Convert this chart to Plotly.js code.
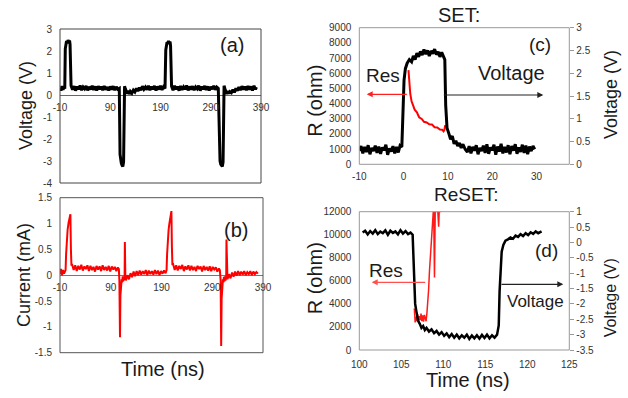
<!DOCTYPE html>
<html><head><meta charset="utf-8">
<script src="https://cdn.plot.ly/plotly-3.0.1.min.js"></script>
<style>html,body{margin:0;padding:0;background:#fff;}#chart{width:628px;height:398px;}</style>
</head><body><div id="chart"></div>
<script>
// ---------- Panel (a): voltage vs time ----------
const timeA = [-10,-8,-6,-4,-2,-0.5, 0.5,1.5,3,4.5,6,7.5,9,10,11,
 12,15,18,21,24,27,30,33,36,39,42,45,48,51,54,57,60,63,66,69,72,75,78,81,84,87,90,93,96,99,102,105,108,
 109.5,110.5,112,113.5,115,116.5,117.3,
 118.5,120,122,124,126,128,130,133,136,139,142,145,148,151,154,157,160,
 163,166,169,172,175,178,181,184,187,190,193,196,199,
 200.5,201.5,203,204.5,206,207.5,209,210,211,
 212,215,218,221,224,227,230,233,236,239,242,245,248,251,254,257,260,263,266,269,272,275,278,281,284,287,290,293,296,299,302,305,
 307.5,308.5,310,311.5,313,314.5,315.3,
 316.5,318,320,322,324,326,328,331,334,337,340,343,346,349,352,355,358,
 361,364,367,370,373,376,379,381];
const voltageA = [0.32,0.20,0.40,0.24,0.38,0.28, 2.10,2.30,2.45,2.35,2.50,2.40,2.48,2.30,0.45,
 0.42,0.24,0.40,0.20,0.38,0.26,0.43,0.22,0.36,0.28,0.41,0.21,0.37,0.25,0.42,0.23,0.39,0.20,0.40,0.26,0.38,0.22,0.41,0.24,0.36,0.21,0.39,0.25,0.40,0.22,0.37,0.26,0.30,
 -2.70,-3.00,-3.10,-3.20,-3.25,-3.05,-0.40,
 0.40,0.28,0.18,0.06,0.20,0.04,0.16,0.08,0.22,0.14,0.30,0.18,0.34,0.22,0.40,0.26,0.36,
 0.24,0.42,0.22,0.38,0.26,0.41,0.20,0.39,0.25,0.42,0.23,0.37,0.30,
 2.05,2.30,2.40,2.35,2.45,2.38,2.42,2.25,0.45,
 0.40,0.22,0.42,0.26,0.38,0.20,0.41,0.24,0.37,0.27,0.43,0.21,0.39,0.25,0.40,0.22,0.36,0.28,0.42,0.20,0.38,0.26,0.41,0.23,0.39,0.21,0.37,0.27,0.42,0.24,0.36,0.30,
 -2.70,-3.00,-3.15,-3.20,-3.25,-3.05,-0.40,
 0.42,0.30,0.16,0.05,0.18,0.06,0.15,0.10,0.24,0.12,0.30,0.20,0.36,0.22,0.40,0.25,0.38,
 0.22,0.41,0.24,0.39,0.20,0.42,0.26,0.36];

// ---------- Panel (b): current vs time ----------
const timeB = [-10,-8,-6,-4,-2,-0.5, 1,2,3.5,5,7,9,10.5,11.5,12.5,
 14,17,20,23,26,29,32,35,38,41,44,47,50,53,56,59,62,65,68,71,74,77,80,83,86,89,92,95,98,101,104,
 106,107,108.2,109,110,111.5,
 112.5,113.5,114.5,115.5,116.5,117.3,
 117.8,118.3,118.8,
 120,123,126,129,132,135,138,141,144,147,150,153,156,159,162,165,168,171,174,177,180,183,186,189,192,195,198,
 200,201,202.5,204,205.5,207,208.5,209.5,210.5,211.5,
 213,216,219,222,225,228,231,234,237,240,243,246,249,252,255,258,261,264,267,270,273,276,279,282,285,288,291,294,297,300,303,
 305,306.5,307.6,308.5,309.5,311,
 312,313,314,315,316,317.5,
 318,318.4,318.9,
 320,323,326,329,332,335,338,341,344,347,350,353,356,359,362,365,368,371,374,377,380];
const currentB = [0.02,0.12,0.00,0.10,0.03,0.08, 0.10,0.40,0.70,0.88,1.02,1.12,1.18,0.50,0.20,
 0.20,0.10,0.19,0.08,0.18,0.11,0.20,0.09,0.17,0.12,0.19,0.08,0.18,0.10,0.16,0.07,0.18,0.11,0.17,0.08,0.19,0.10,0.16,0.09,0.18,0.07,0.17,0.11,0.16,0.08,0.15,
 0.12,-0.10,-1.20,-0.40,-0.18,-0.08,
 -0.14,-0.02,-0.12,-0.03,-0.10,-0.05,
 0.64,0.10,-0.05,
 -0.10,0.00,-0.08,0.04,-0.04,0.07,-0.02,0.08,0.00,0.09,0.01,0.08,0.02,0.10,0.00,0.09,0.02,0.08,0.01,0.10,0.02,0.09,0.00,0.08,0.03,0.09,0.04,
 0.10,0.40,0.70,0.88,1.00,1.12,1.20,1.24,0.55,0.20,
 0.21,0.10,0.19,0.09,0.18,0.12,0.20,0.08,0.17,0.11,0.19,0.09,0.18,0.10,0.16,0.08,0.18,0.12,0.17,0.07,0.18,0.10,0.16,0.09,0.17,0.08,0.16,0.11,0.15,0.07,0.13,
 0.10,-0.10,-1.37,-0.45,-0.20,-0.08,
 -0.14,-0.03,-0.12,-0.02,-0.10,-0.05,
 0.69,0.12,-0.04,
 -0.08,0.02,-0.06,0.05,-0.03,0.07,-0.01,0.08,0.00,0.07,0.01,0.08,0.00,0.06,0.02,0.08,0.00,0.07,0.02,0.06,0.03];

// ---------- Panel (c): SET ----------
const timeCV = [-10,-9.6,-9.2,-8.8,-8.4,-8,-7.6,-7.2,-6.8,-6.4,-6,-5.6,-5.2,-4.8,-4.4,-4,-3.6,-3.2,-2.8,-2.4,-2,-1.6,-1.2,-0.8,
 -0.4,-0.2,0.1,0.4,0.8,1.3,
 1.8,2.2,2.6,3.0,3.4,3.8,4.2,4.6,5.0,5.4,5.8,6.2,6.6,7.0,7.4,7.8,8.2,8.6,9.0,
 9.3,9.5,9.8,10.2,
 10.6,11.0,11.4,11.8,12.2,12.6,13.0,13.4,13.9,
 14.4,14.8,15.2,15.6,16.0,16.4,16.8,17.2,17.6,18.0,18.4,18.8,19.2,19.6,20.0,20.4,20.8,21.2,21.6,22.0,22.4,22.8,23.2,23.6,24.0,24.4,24.8,25.2,25.6,26.0,26.4,26.8,27.2,27.6,28.0,28.4,28.8,29.2,29.6];
const voltageC = [0.30,0.40,0.24,0.38,0.27,0.42,0.22,0.36,0.29,0.41,0.25,0.39,0.23,0.37,0.31,0.43,0.21,0.35,0.28,0.40,0.24,0.38,0.26,0.41,
 0.38,1.00,1.85,2.10,2.22,2.30,
 2.25,2.38,2.30,2.44,2.36,2.48,2.40,2.52,2.42,2.50,2.38,2.49,2.43,2.53,2.41,2.47,2.36,2.46,2.38,
 2.30,1.30,0.80,0.68,
 0.55,0.62,0.45,0.52,0.40,0.47,0.36,0.44,0.33,
 0.27,0.40,0.24,0.38,0.30,0.42,0.22,0.36,0.29,0.41,0.25,0.44,0.23,0.37,0.31,0.43,0.21,0.39,0.28,0.45,0.24,0.38,0.26,0.42,0.22,0.40,0.30,0.44,0.23,0.37,0.27,0.43,0.25,0.41,0.22,0.39,0.29,0.40,0.33];
const timeCR = [1.1,1.3,1.5,1.8,2.1,2.5,3.0,3.5,4.1,4.6,5.2,5.8,6.4,7.0,7.6,8.2,8.7,9.0,9.2,9.4];
const resC = [6200,5250,4650,4150,3950,3600,3420,3100,2990,2800,2760,2640,2620,2440,2430,2290,2280,2170,2260,2580];

// ---------- Panel (d): ReSET ----------
const timeDV = [100.4,100.7,101.0,101.3,101.6,101.9,102.2,102.5,102.8,103.1,103.4,103.7,104.0,104.3,104.6,104.9,105.2,105.5,105.8,106.1,
 106.35,106.45,106.55,106.65,106.8,107.0,107.2,107.4,107.6,107.8,108.0,108.3,108.6,108.9,109.2,109.5,109.8,110.1,110.4,110.7,111.0,111.3,111.6,111.9,112.2,112.5,112.8,113.1,113.4,113.7,114.0,114.3,114.6,114.9,115.2,115.5,115.8,116.1,116.4,116.6,
 116.7,116.8,116.95,117.15,117.4,117.7,118.0,118.3,118.6,118.9,119.2,119.5,119.8,120.1,120.4,120.7,121.0,121.3,121.7];
const voltageD = [0.32,0.38,0.26,0.37,0.29,0.40,0.27,0.35,0.30,0.39,0.25,0.38,0.31,0.36,0.26,0.40,0.29,0.37,0.27,0.32,
 0.25,-0.60,-1.60,-2.00,-2.25,-2.55,-2.65,-2.78,-2.72,-2.85,-2.78,-2.90,-2.83,-2.95,-2.88,-3.00,-2.92,-3.04,-2.96,-3.08,-2.98,-3.10,-3.00,-3.12,-3.02,-3.10,-3.00,-3.14,-3.03,-3.12,-3.02,-3.13,-3.01,-3.11,-3.00,-3.12,-3.02,-3.10,-3.00,-2.70,
 -1.60,-0.80,-0.30,-0.08,0.06,0.10,0.16,0.12,0.22,0.18,0.27,0.21,0.30,0.24,0.33,0.28,0.36,0.30,0.36];
const timeDR = [106.55,106.65,106.75,106.85,106.95,107.05,107.15,107.25,107.35,107.45,107.55,107.65,107.75,107.85,107.95,108.05,108.15,108.25,108.35,108.45,108.55,108.65,108.75,108.85,108.95,109.05,109.15,109.25,109.35,109.45,109.55,109.65,109.75,109.85];
const resD = [3600,2400,2900,2500,3100,2450,2950,2600,3150,2500,3000,2450,3050,2600,2500,3200,3900,5200,6800,8200,9700,11000,11950,12500,6300,12800,11950,13500,11980,10700,12900,11960,12700,11980];

// ---------- tick labels ----------
const ticksAB_x = [-10,90,190,290,390];
const ticksAB_xText = ['-10','90','190','290','390'];
const ticksA_y = [-4,-3,-2,-1,0,1,2,3];
const ticksA_yText = ['-4','-3','-2','-1','0','1','2','3'];
const ticksB_y = [-1.5,-1,-0.5,0,0.5,1,1.5];
const ticksB_yText = ['-1.5','-1','-0.5','0','0.5','1','1.5'];
const ticksC_x = [-10,0,10,20,30];
const ticksC_xText = ['-10','0','10','20','30'];
const ticksC_yR = [0,1000,2000,3000,4000,5000,6000,7000,8000,9000];
const ticksC_yRText = ['0','1000','2000','3000','4000','5000','6000','7000','8000','9000'];
const ticksC_yV = [0,0.5,1,1.5,2,2.5,3];
const ticksC_yVText = ['0','0.5','1','1.5','2','2.5','3'];
const ticksD_x = [100,105,110,115,120,125];
const ticksD_xText = ['100','105','110','115','120','125'];
const ticksD_yR = [0,2000,4000,6000,8000,10000,12000];
const ticksD_yRText = ['0','2000','4000','6000','8000','10000','12000'];
const ticksD_yV = [-3.5,-3,-2.5,-2,-1.5,-1,-0.5,0,0.5,1];
const ticksD_yVText = ['-3.5','-3','-2.5','-2','-1.5','-1','-0.5','0','0.5','1'];

const FONT = '"Liberation Sans", Arial, sans-serif';
const W = 628, H = 398;
const px = v => v / W;
const py = v => 1 - v / H;
const tickFont = {family: FONT, size: 10, color: '#333'};
const CLEAR = 'rgba(0,0,0,0)';

const traces = [
  {x: timeA, y: voltageA, xaxis: 'x', yaxis: 'y', mode: 'lines', line: {color: '#000', width: 3}},
  {x: timeB, y: currentB, xaxis: 'x2', yaxis: 'y2', mode: 'lines', line: {color: '#ff0000', width: 2}},
  {x: timeCR, y: resC, xaxis: 'x3', yaxis: 'y3', mode: 'lines', line: {color: '#ff0000', width: 2}},
  {x: timeCV, y: voltageC, xaxis: 'x3', yaxis: 'y5', mode: 'lines', line: {color: '#000', width: 3}},
  {x: timeDR, y: resD, xaxis: 'x4', yaxis: 'y4', mode: 'lines', line: {color: '#ff1a1a', width: 1.5}},
  {x: timeDV, y: voltageD, xaxis: 'x4', yaxis: 'y6', mode: 'lines', line: {color: '#000', width: 2.5}}
];

const baseAx = {showgrid: false, zeroline: false, showline: false, ticks: 'outside', tickcolor: CLEAR,
  ticklen: 4, tickfont: tickFont, fixedrange: true};

function txt(text, x, y, size, angle) {
  return {text: text, x: px(x), y: py(y), xref: 'paper', yref: 'paper', showarrow: false,
    xanchor: 'center', yanchor: 'middle', textangle: angle || 0,
    font: {family: FONT, size: size, color: '#1a1a1a'}};
}
function arrow(x0, x1, y, color) {
  return {text: '', x: px(x1), y: py(y), xref: 'paper', yref: 'paper', ax: x0 - x1, ay: 0,
    showarrow: true, arrowhead: 2, arrowsize: 1, arrowwidth: 1.2, arrowcolor: color};
}
function box(x0, x1, y0, y1, color) {
  return {type: 'rect', xref: 'paper', yref: 'paper', x0: px(x0), x1: px(x1), y0: py(y1), y1: py(y0),
    line: {color: color, width: 1}, fillcolor: CLEAR, layer: 'above'};
}

const layout = {
  width: W, height: H, margin: {l: 0, r: 0, t: 0, b: 0},
  paper_bgcolor: '#fff', plot_bgcolor: CLEAR, showlegend: false,
  font: {family: FONT},
  xaxis: Object.assign({}, baseAx, {domain: [px(60), px(261)], range: [-10, 390], anchor: 'free', position: py(95),
    tickvals: ticksAB_x, ticktext: ticksAB_xText, ticklen: 3}),
  yaxis: Object.assign({}, baseAx, {domain: [py(183), py(29)], range: [-4, 3], anchor: 'x',
    tickvals: ticksA_y, ticktext: ticksA_yText, ticklen: 5, zeroline: true, zerolinecolor: '#666', zerolinewidth: 1}),
  xaxis2: Object.assign({}, baseAx, {domain: [px(60), px(263)], range: [-10, 390], anchor: 'free', position: py(275.2),
    tickvals: ticksAB_x, ticktext: ticksAB_xText, ticklen: 3}),
  yaxis2: Object.assign({}, baseAx, {domain: [py(352.7), py(197.7)], range: [-1.5, 1.5], anchor: 'x2',
    tickvals: ticksB_y, ticktext: ticksB_yText, ticklen: 5, zeroline: true, zerolinecolor: '#777', zerolinewidth: 1}),
  xaxis3: Object.assign({}, baseAx, {domain: [px(359.3), px(569.3)], range: [-10, 37.4], anchor: 'y3',
    tickvals: ticksC_x, ticktext: ticksC_xText, ticklen: 3}),
  yaxis3: Object.assign({}, baseAx, {domain: [py(164.3), py(27.7)], range: [0, 9000], anchor: 'x3',
    tickvals: ticksC_yR, ticktext: ticksC_yRText, ticklen: 5}),
  yaxis5: Object.assign({}, baseAx, {range: [0, 3], overlaying: 'y3', side: 'right', anchor: 'x3',
    tickvals: ticksC_yV, ticktext: ticksC_yVText, ticklen: 4, tickcolor: '#999'}),
  xaxis4: Object.assign({}, baseAx, {domain: [px(359.3), px(569.3)], range: [100, 125], anchor: 'y4',
    tickvals: ticksD_x, ticktext: ticksD_xText, ticklen: 5}),
  yaxis4: Object.assign({}, baseAx, {domain: [py(350), py(211.7)], range: [0, 12000], anchor: 'x4',
    tickvals: ticksD_yR, ticktext: ticksD_yRText, ticklen: 5}),
  yaxis6: Object.assign({}, baseAx, {range: [-3.5, 1], overlaying: 'y4', side: 'right', anchor: 'x4',
    tickvals: ticksD_yV, ticktext: ticksD_yVText, ticklen: 4, tickcolor: '#999'}),
  shapes: [
    box(60, 261, 29, 183, '#444'),
    box(60, 263, 197.7, 352.7, '#555'),
    box(359.3, 569.3, 27.7, 164.3, '#999'),
    box(359.3, 569.3, 211.7, 350, '#999')
  ],
  annotations: [
    txt('(a)', 231.7, 45, 20), txt('(b)', 235.5, 230, 20),
    txt('(c)', 540, 45, 19), txt('(d)', 546.7, 250, 19),
    txt('Res', 382.5, 76, 19), txt('Voltage', 511.3, 72.7, 20),
    txt('Res', 385.8, 270, 19), txt('Voltage', 535.8, 301.7, 17),
    txt('SET:', 459, 15, 20), txt('ReSET:', 465.8, 195, 19),
    txt('Voltage (V)', 26.7, 105.3, 18, -90), txt('Current (mA)', 24, 275, 18, -90),
    txt('Time (ns)', 162.5, 369.3, 20),
    txt('R (ohm)', 315, 100.8, 20, -90), txt('Voltage (V)', 610.8, 94.2, 18, -90),
    txt('R (ohm)', 315, 278.3, 20, -90), txt('Voltage (V)', 610, 298.3, 16, -90),
    txt('Time (ns)', 468.3, 380, 20),
    arrow(408.3, 366.7, 94.3, '#ff2020'), arrow(442.3, 543.3, 95, '#222'),
    arrow(426.7, 371.7, 282.3, '#ff5050'), arrow(500, 563.3, 284.3, '#222')
  ]
};

Plotly.newPlot('chart', traces, layout, {staticPlot: true, displayModeBar: false});
</script>
</body></html>
